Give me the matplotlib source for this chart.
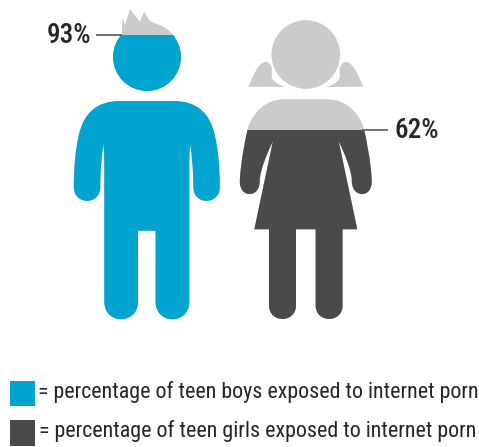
import matplotlib
matplotlib.use("Agg")
import matplotlib.pyplot as plt
from matplotlib.path import Path
from matplotlib.patches import PathPatch, Rectangle, Circle

# Share of each group exposed
groups = ["boys", "girls"]
percent_values = [93, 62]
percent_labels = ["93%", "62%"]
legend_labels = [
    "= percentage of teen boys exposed to internet porn",
    "= percentage of teen girls exposed to internet porn",
]

BLUE = "#00A4CF"
DARK = "#4C4A48"
GREY = "#CDCACA"
TEXT = "#262626"
FONT = "Roboto Condensed"

# Figure height scale: 0 % sits at the feet, each percent spans a fixed height
FEET_Y = 319.0
PX_PER_PERCENT = 3.05


def level_y(value):
    return FEET_Y - value * PX_PER_PERCENT


def mirrored(cx, left):
    """Close a symmetric outline: left holds (dx, y, code) from top centre to bottom centre."""
    verts = [(cx - dx, y) for dx, y, _ in left]
    codes = [c for _, _, c in left]
    rev = left[::-1]
    # Walk back up the right side; each vertex takes the code of the segment it ends
    for i in range(len(rev) - 1):
        dx, y, _ = rev[i + 1]
        verts.append((cx + dx, y))
        codes.append(rev[i][2])
    verts.append(verts[0])
    codes.append(Path.CLOSEPOLY)
    return Path(verts, codes)


M, L, C = Path.MOVETO, Path.LINETO, Path.CURVE4

boy_cx = 146.8
boy_body = mirrored(boy_cx, [
    (0, 101, M), (27, 101, L),
    (50, 101, C), (63, 113, C), (68, 135, C),
    (71, 148, C), (73, 165, C), (73, 187, C),
    (73, 205.5, C), (46.5, 205.5, C), (46.5, 187, C),
    (46.5, 170, C), (45, 155, C), (43.5, 145, C),
    (42.5, 150, C), (42.5, 160, C), (42.5, 170, C),
    (42.5, 302, L),
    (42.5, 325, C), (8.8, 325, C), (8.8, 302, C),
    (8.8, 230.7, L), (0, 230.7, L),
])

girl_cx = 305.8
girl_body = mirrored(girl_cx, [
    (0, 99.3, M), (22, 99.3, L),
    (38, 99.3, C), (52, 110, C), (58, 128, C),
    (61, 142, C), (65, 160, C), (66, 181, C),
    (66.5, 198.5, C), (46, 198.5, C), (46, 181, C),
    (46, 170, C), (38, 152, C), (33, 141.5, C),
    (51.5, 229.3, L), (36.8, 229.3, L),
    (36.8, 305.5, L),
    (36.8, 323.5, C), (9.8, 323.5, C), (9.8, 305.5, C),
    (9.8, 229.3, L), (0, 229.3, L),
])

# Spiky quiff above the boy's head
hair = Path(
    [(122, 37), (122, 27), (122.7, 18), (125, 25), (130, 9), (140, 22),
     (144, 11.5), (149, 20), (152, 22), (162, 26), (168, 30), (175, 37), (122, 37)],
    [M, L, L, L, L, L, L, L, L, L, L, L, Path.CLOSEPOLY],
)


def pigtail(cx, side):
    pts = [(57.5, 86.7), (52, 74), (47, 62), (40, 62), (37, 62), (34, 66),
           (34, 68), (34, 78), (31, 83), (25, 86), (20, 87), (57.5, 86.7)]
    codes = [M, C, C, C, C, C, C, L, C, C, C, Path.CLOSEPOLY]
    return Path([(cx + side * dx, y) for dx, y in pts], codes)


fig = plt.figure(figsize=(4.79, 4.47), dpi=100, facecolor="white")
ax = fig.add_axes([0, 0, 1, 1])
ax.set_xlim(0, 479)
ax.set_ylim(447, 0)
ax.axis("off")


def add_filled(shape_patches, value, colour):
    """Draw grey shapes, then repeat them in colour up to the level of value."""
    clip = Rectangle((0, level_y(value)), 479, 447, transform=ax.transData)
    for make in shape_patches:
        ax.add_patch(make(GREY))
        top = make(colour)
        ax.add_patch(top)
        top.set_clip_path(clip)


def path_maker(path):
    return lambda c: PathPatch(path, facecolor=c, edgecolor="none", lw=0)


def circle_maker(x, y, r):
    return lambda c: Circle((x, y), r, facecolor=c, edgecolor="none", lw=0)


# Boy figure
add_filled([path_maker(hair), circle_maker(147, 57, 34), path_maker(boy_body)],
           percent_values[0], BLUE)

# Girl figure
add_filled([path_maker(pigtail(girl_cx, -1)), path_maker(pigtail(girl_cx, 1)),
            circle_maker(girl_cx, 54.5, 34.3), path_maker(girl_body)],
           percent_values[1], DARK)

# Percentage call-outs, level with each fill line
boy_y, girl_y = level_y(percent_values[0]), level_y(percent_values[1])
ax.plot([96, 122], [boy_y, boy_y], color="#5A5A5A", lw=1.2, solid_capstyle="butt")
ax.plot([362, 388], [girl_y, girl_y], color="#5A5A5A", lw=1.2, solid_capstyle="butt")
ax.text(47, boy_y + 0.5, percent_labels[0], fontsize=19.5, fontweight="medium", family=FONT,
        color=TEXT, ha="left", va="center")
ax.text(395, girl_y + 0.5, percent_labels[1], fontsize=19.5, fontweight="medium", family=FONT,
        color=TEXT, ha="left", va="center")

# Legend swatches and text
ax.add_patch(Rectangle((10, 381), 25, 25, facecolor=BLUE, edgecolor="none"))
ax.add_patch(Rectangle((10, 420), 25, 25.5, facecolor=DARK, edgecolor="none"))
ax.text(38, 392, legend_labels[0], fontsize=15.85, family=FONT, color=TEXT, ha="left", va="center")
ax.text(39, 431, legend_labels[1], fontsize=15.85, family=FONT, color=TEXT, ha="left", va="center")

fig.savefig("out.png", dpi=100, facecolor="white")
